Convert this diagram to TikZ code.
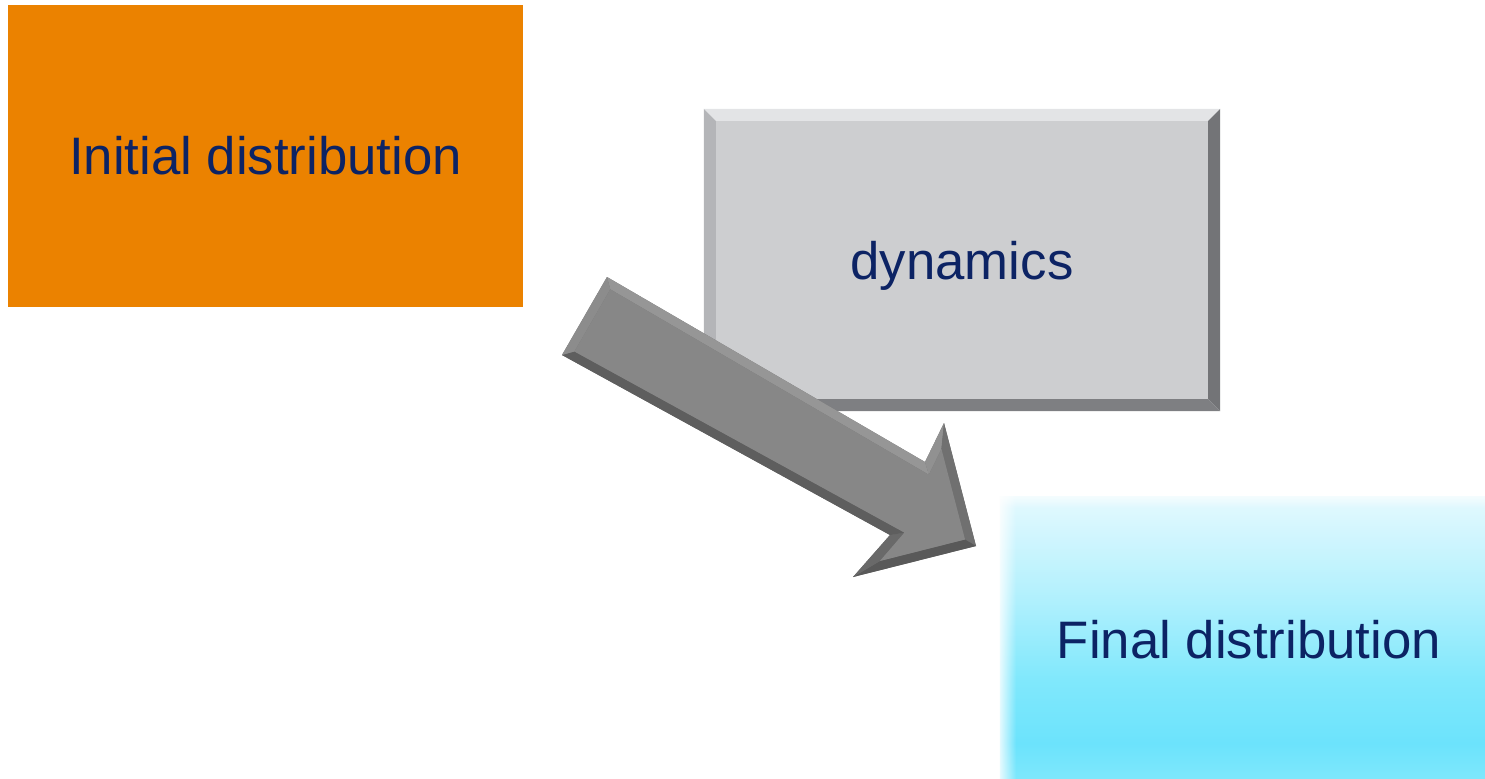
\documentclass[tikz,border=0pt]{standalone}
\usepackage{fontspec}
\setmainfont{Liberation Sans}
\usepackage{xcolor}
\usetikzlibrary{positioning,calc,fadings}
\definecolor{initclr}{RGB}{235,130,0}
\definecolor{txtclr}{RGB}{12,35,100}
\definecolor{dynclr}{RGB}{205,206,208}
\definecolor{dyntop}{RGB}{227,228,230}
\definecolor{dynleft}{RGB}{180,181,184}
\definecolor{dynright}{RGB}{115,116,119}
\definecolor{dynbot}{RGB}{126,127,130}
\definecolor{finhi}{RGB}{228,249,254}
\definecolor{finmid}{RGB}{176,240,253}
\definecolor{finbase}{RGB}{128,232,252}
\definecolor{finlo}{RGB}{108,227,252}
\pgfdeclareverticalshading{finshade}{100bp}{color(0bp)=(finbase); color(25bp)=(finbase); color(32bp)=(finlo); color(43bp)=(finbase); color(57bp)=(finmid); color(75bp)=(finhi); color(100bp)=(finhi)}
\tikzfading[name=fadeout right,left color=transparent!0,right color=transparent!100]
\tikzfading[name=fadeout down,top color=transparent!0,bottom color=transparent!100]
\tikzset{
    box/.style={rectangle,inner sep=0pt,outer sep=0pt,font=\fontsize{15}{18}\selectfont,text=txtclr},
    initbox/.style={box,fill=initclr,minimum width=5.15cm,minimum height=3.02cm},
    dynbox/.style={box,fill=dynclr,minimum width=4.92cm,minimum height=2.78cm,text depth=0pt},
    finbox/.style={box,shade,shading=finshade,minimum width=4.98cm,minimum height=2.86cm},
    facet/.style={fill=#1},
}

\begin{document}
\begin{tikzpicture}[x=0.01cm,y=-0.01cm]
\useasboundingbox (0,0) rectangle (1485,779);
% boxes
\node[initbox] (init) at (265.5,156) {Initial distribution};
\node[dynbox]  (dyn)  at (962,260)   {dynamics};
\node[finbox]  (fin)  at (1249,640)  {Final distribution};

% bevel round dynamics
\fill[facet=dyntop]   ($(dyn.north west)+(-12,-12)$) -- ($(dyn.north east)+(12,-12)$) -- (dyn.north east) -- (dyn.north west) -- cycle;
\fill[facet=dynleft]  ($(dyn.north west)+(-12,-12)$) -- (dyn.north west) -- (dyn.south west) -- ($(dyn.south west)+(-12,12)$) -- cycle;
\fill[facet=dynright] ($(dyn.north east)+(12,-12)$) -- ($(dyn.south east)+(12,12)$) -- (dyn.south east) -- (dyn.north east) -- cycle;
\fill[facet=dynbot]   ($(dyn.south west)+(-12,12)$) -- (dyn.south west) -- (dyn.south east) -- ($(dyn.south east)+(12,12)$) -- cycle;

% soft edges of final distribution
\fill[white,path fading=fadeout right] (996,488) rectangle (1016,783);
\fill[white,path fading=fadeout down]  (996,488) rectangle (1498,508);

% block arrow
\foreach \n/\x/\y in {a/607/277, b/925/462, c/944/423, d/976/546, e/853/577, f/890/535, g/562/355,
    ai/610.3/289.3, bi/928.8/474.7, ci/941.4/448.9, di/965/539.5, ei/879.9/561, fi/904.4/532.6, gi/574.4/351.5}
    \coordinate (\n) at (\x,\y);
\fill[facet=black!55] (a) -- (b) -- (c) -- (d) -- (e) -- (f) -- (g) -- cycle;
\fill[facet=black!41] (a) -- (b) -- (bi) -- (ai) -- cycle;
\fill[facet=black!43] (b) -- (c) -- (ci) -- (bi) -- cycle;
\fill[facet=black!56] (c) -- (d) -- (di) -- (ci) -- cycle;
\fill[facet=black!65] (d) -- (e) -- (ei) -- (di) -- cycle;
\fill[facet=black!59] (e) -- (f) -- (fi) -- (ei) -- cycle;
\fill[facet=black!63] (f) -- (g) -- (gi) -- (fi) -- cycle;
\fill[facet=black!45] (g) -- (a) -- (ai) -- (gi) -- cycle;
\fill[facet=black!47] (ai) -- (bi) -- (ci) -- (di) -- (ei) -- (fi) -- (gi) -- cycle;
\end{tikzpicture}
\end{document}
